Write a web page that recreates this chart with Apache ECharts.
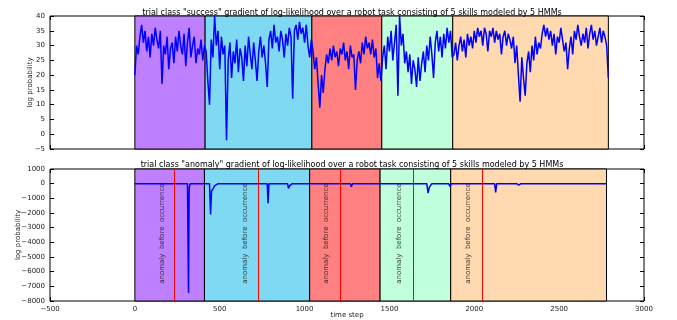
<!DOCTYPE html>
<html>
<head>
<meta charset="utf-8">
<script src="https://cdn.jsdelivr.net/npm/echarts@6/dist/echarts.min.js"></script>
<style>
html, body { margin: 0; padding: 0; background: #fff; }
#chart { width: 677px; height: 320px; }
</style>
</head>
<body>
<div id="chart"></div>
<script>
// time step between samples of the "success" trace
const STEP = 10;

// gradient of log-likelihood, "success" trial, one array per skill
const skill1 = [20,30,27,33,37,31,35,28,33,26, 34,30,36,32,29,35,17,30,27,33,
  22,29,31,24,33,28,35,30,27,34, 23,31,36,26,30,33,24,29,27,32, 25,30];
const skill2 = [28,18,10,32,26,40,30,35,22,33, 27,30,-2,25,31,19,28,24,32,21,
  29,26,18,30,23,33,27,22,31,25, 18,28,33,26,30,24,16,32,35,29,
  37,31,33,28,35,32,26,34,30,36, 33,12,35,37,32,38,34,36,31,37, 30,26,32];
const skill3 = [28,22,26,17,9,20,14,22,27,24, 29,25,30,26,28,23,29,27,31,25,
  28,22,30,26,27,15,25,28,24,31, 27,33,29,31,27,32,26,29,19,24, 18];
const skill4 = [26,30,22,33,28,35,25,31,37,13, 40,30,34,24,28,21,27,17,25,22,
  16,26,18,24,28,21,30,25,33,27, 19,31,35,28,33,26,34,29,36,31, 35,26];
const skill5 = [27,31,25,30,33,28,32,26,34,30, 33,29,35,31,36,33,35,30,36,34,
  28,35,33,36,31,35,32,34,27,33, 35,30,34,32,29,33,24,30,20,11,
  26,19,13,24,28,21,30,25,33,27, 31,29,34,37,33,36,32,35,30,34,
  27,33,31,36,32,28,31,22,29,33, 27,35,32,37,33,30,34,31,36,29,
  34,37,32,35,30,33,36,31,35,33, 30,19];

// "anomaly" trial trace
const anomalyTimes = [0, 310, 316, 320, 326, 440, 446, 452, 460, 470, 490, 780, 785, 790,
  900, 905, 912, 925, 1270, 1275, 1282, 1720, 1728, 1735, 1750, 1850, 1856, 1865,
  2120, 2126, 2132, 2250, 2262, 2275, 2779];
const anomalyValues = [0, 0, -7450, -300, 0, 0, -2100, -500, -350, -150, 0, 0, -1340, 0,
  0, -320, -150, 0, 0, -220, 0, 0, -650, -250, 0, 0, -200, 0,
  0, -590, 0, 0, -100, 0, 0];

// skill boundaries (time steps)
const successBounds = [0, 414, 1043, 1455, 1873, 2790];
const anomalyBounds = [0, 410, 1030, 1445, 1861, 2779];

// anomaly occurrences and annotation positions
const anomalyLines = [235, 730, 1208, 1640, 2047];
const noteTimes = [160, 650, 1130, 1560, 1965];
const noteLevel = -3400;
const noteText = 'anomaly  before  occurrence';

const xTicks = { min: -500, max: 3000, interval: 500 };
const yTop = { min: -5, max: 40, interval: 5 };
const yBottom = { min: -8000, max: 1000, interval: 1000 };

const skillColors = ['#bf80ff', '#80d9f3', '#ff8080', '#c0ffdb', '#ffd9b0'];

const successVals = [].concat(skill1, skill2, skill3, skill4, skill5);
const successData = successVals.map((v, i) => [i * STEP, v]);
const anomalyData = anomalyTimes.map((t, i) => [t, anomalyValues[i]]);

const minus = (v) => String(v).replace('-', '\u2212');

const areas = (bounds) => skillColors.map((c, i) => [
  { xAxis: bounds[i], itemStyle: { color: c, borderColor: '#000', borderWidth: 1 } },
  { xAxis: bounds[i + 1] }
]);

const tick = { inside: true, length: 4, lineStyle: { color: '#000' } };
const lbl = { fontSize: 7, color: '#222', formatter: minus, margin: 5 };

const mkX = (grid, pos, show) => ({
  type: 'value', gridIndex: grid, position: pos, ...xTicks,
  axisLine: { show: false, onZero: false }, axisTick: tick, splitLine: { show: false },
  axisLabel: show ? lbl : { show: false }
});
const mkY = (grid, pos, range, show) => ({
  type: 'value', gridIndex: grid, position: pos, ...range,
  axisLine: { show: false, onZero: false }, axisTick: tick, splitLine: { show: false },
  axisLabel: show ? lbl : { show: false }
});

const gridBase = { left: 50, right: 33, show: true, borderColor: '#000', borderWidth: 1,
  backgroundColor: '#fff', containLabel: false, outerBoundsMode: 'none' };

const myChart = echarts.init(document.getElementById('chart'));
myChart.setOption({
  animation: false,
  textStyle: { fontFamily: 'DejaVu Sans' },
  title: [
    { text: 'trial class "success" gradient of log-likelihood over a robot task consisting of 5 skills modeled by 5 HMMs',
      left: 347, textAlign: 'center', top: 4,
      textStyle: { fontSize: 8, fontWeight: 'normal', color: '#000' } },
    { text: 'trial class "anomaly" gradient of log-likelihood over a robot task consisting of 5 skills modeled by 5 HMMs',
      left: 347, textAlign: 'center', top: 156,
      textStyle: { fontSize: 8, fontWeight: 'normal', color: '#000' } }
  ],
  grid: [
    Object.assign({ top: 16, height: 133 }, gridBase),
    Object.assign({ top: 169, height: 132 }, gridBase)
  ],
  xAxis: [
    mkX(0, 'bottom', false),
    mkX(0, 'top', false),
    Object.assign(mkX(1, 'bottom', true), {
      name: 'time step', nameLocation: 'middle', nameGap: 11, nameMoveOverlap: false,
      nameTextStyle: { fontSize: 7, color: '#222' }
    }),
    mkX(1, 'top', false)
  ],
  yAxis: [
    Object.assign(mkY(0, 'left', yTop, true), {
      name: 'log probability', nameLocation: 'middle', nameGap: 16, nameMoveOverlap: false,
      nameTextStyle: { fontSize: 7, color: '#222' }
    }),
    mkY(0, 'right', yTop, false),
    Object.assign(mkY(1, 'left', yBottom, true), {
      name: 'log probability', nameLocation: 'middle', nameGap: 28, nameMoveOverlap: false,
      nameTextStyle: { fontSize: 7, color: '#222' }
    }),
    mkY(1, 'right', yBottom, false)
  ],
  series: [
    {
      type: 'line', xAxisIndex: 0, yAxisIndex: 0, data: successData,
      symbol: 'none', lineStyle: { color: '#0000ff', width: 1.5 },
      markArea: { silent: true, data: areas(successBounds) }
    },
    {
      type: 'line', xAxisIndex: 2, yAxisIndex: 2, data: anomalyData,
      symbol: 'none', lineStyle: { color: '#0000ff', width: 1.5 },
      markArea: { silent: true, data: areas(anomalyBounds) },
      markLine: {
        silent: true, symbol: 'none', label: { show: false },
        lineStyle: { color: '#ff0000', width: 1, type: 'solid' },
        data: anomalyLines.map(t => ({ xAxis: t }))
      }
    },
    {
      type: 'scatter', xAxisIndex: 2, yAxisIndex: 2, symbolSize: 0, silent: true,
      data: noteTimes.map(t => [t, noteLevel]),
      label: { show: true, position: 'inside', rotate: 90, formatter: noteText, fontSize: 7, color: '#111' }
    }
  ]
});
</script>
</body>
</html>
